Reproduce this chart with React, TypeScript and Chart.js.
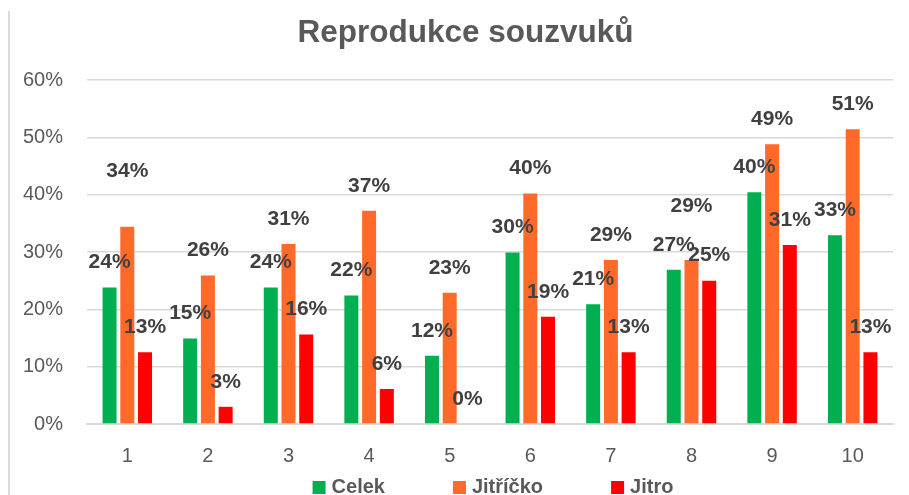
import React, { useEffect, useRef } from "react";
import { Chart, registerables } from "chart.js";

Chart.register(...registerables);

const categories = ["1", "2", "3", "4", "5", "6", "7", "8", "9", "10"];
const celek = [23.8, 14.9, 23.8, 22.4, 11.9, 29.9, 20.9, 26.9, 40.4, 32.9];
const jitricko = [34.4, 25.9, 31.4, 37.2, 22.9, 40.2, 28.6, 28.6, 48.8, 51.4];
const jitro = [12.5, 3.0, 15.6, 6.1, 0, 18.7, 12.5, 25.0, 31.2, 12.5];
const seriesNames = ["Celek", "Jitříčko", "Jitro"];
const seriesColors = ["#00B050", "#FF6A2B", "#FF0000"];
const yTicks = [0, 10, 20, 30, 40, 50, 60];
const titleText = "Reprodukce souzvuků";

const TEXT = "#595959";
const LABEL = "#404040";
const FONT = "'Liberation Sans', Arial, sans-serif";

// data labels lifted further (series index, category index)
const extraLift: Record<string, number> = { "1-0": 31, "1-7": 29 };

const dataLabelPlugin = {
  id: "dataLabels",
  afterDatasetsDraw(chart: any) {
    const ctx = chart.ctx;
    ctx.save();
    ctx.font = `bold 21px ${FONT}`;
    ctx.fillStyle = LABEL;
    ctx.textAlign = "center";
    ctx.textBaseline = "middle";
    chart.data.datasets.forEach((ds: any, di: number) => {
      const meta = chart.getDatasetMeta(di);
      meta.data.forEach((bar: any, i: number) => {
        const v = ds.data[i];
        const lift = 25 + (extraLift[`${di}-${i}`] || 0);
        ctx.fillText(`${Math.round(v)}%`, bar.x, bar.y - lift);
      });
    });
    ctx.restore();
  },
};

const titlePlugin = {
  id: "customTitle",
  afterDraw(chart: any) {
    const ctx = chart.ctx;
    ctx.save();
    ctx.font = `bold 31.5px ${FONT}`;
    ctx.fillStyle = TEXT;
    ctx.textAlign = "center";
    ctx.textBaseline = "alphabetic";
    ctx.fillText(titleText, chart.width / 2 + 11, 42);
    ctx.restore();
  },
};

const legendPlugin = {
  id: "customLegend",
  afterDraw(chart: any) {
    const ctx = chart.ctx;
    ctx.save();
    ctx.font = `bold 20px ${FONT}`;
    const box = 13;
    const gapText = 6;
    const gapItem = 68;
    const widths = seriesNames.map((n) => box + gapText + ctx.measureText(n).width);
    const total = widths.reduce((a, b) => a + b, 0) + gapItem * (seriesNames.length - 1);
    const ca = chart.chartArea;
    let x = (ca.left + ca.right) / 2 + 3 - total / 2;
    const cy = 487;
    seriesNames.forEach((n, i) => {
      ctx.fillStyle = seriesColors[i];
      ctx.fillRect(x, cy - 6, box, box);
      ctx.fillStyle = TEXT;
      ctx.textAlign = "left";
      ctx.textBaseline = "middle";
      ctx.fillText(n, x + box + gapText, cy);
      x += widths[i] + gapItem;
    });
    ctx.restore();
  },
};

const borderPlugin = {
  id: "leftBorder",
  beforeDraw(chart: any) {
    const ctx = chart.ctx;
    ctx.save();
    ctx.fillStyle = "#ffffff";
    ctx.fillRect(0, 0, chart.width, chart.height);
    ctx.strokeStyle = "#d9d9d9";
    ctx.lineWidth = 2;
    ctx.beginPath();
    ctx.moveTo(9, 11);
    ctx.lineTo(9, chart.height);
    ctx.stroke();
    ctx.restore();
  },
};

export default function App() {
  const ref = useRef<HTMLCanvasElement | null>(null);

  useEffect(() => {
    document.body.style.margin = "0";
    if (!ref.current) return;
    const values = [celek, jitricko, jitro];
    const chart = new Chart(ref.current, {
      type: "bar",
      data: {
        labels: categories,
        datasets: seriesNames.map((n, i) => ({
          label: n,
          data: values[i],
          backgroundColor: seriesColors[i],
          borderWidth: 0,
          categoryPercentage: 0.66,
          barPercentage: 0.79,
        })),
      },
      options: {
        responsive: false,
        animation: false,
        layout: { padding: { left: 0, right: 16, top: 80, bottom: 27 } },
        plugins: {
          legend: { display: false },
          tooltip: { enabled: false },
          title: { display: false },
        },
        scales: {
          x: {
            grid: { display: false, drawTicks: false },
            border: { display: true, color: "#d9d9d9", width: 2 },
            ticks: { color: TEXT, font: { family: FONT, size: 20 }, padding: 20 },
            afterFit: (s: any) => {
              s.height = 44;
            },
          },
          y: {
            min: 0,
            max: 60,
            afterBuildTicks: (s: any) => {
              s.ticks = yTicks.map((v) => ({ value: v }));
            },
            grid: { color: "#d9d9d9", lineWidth: 1.5, drawTicks: false },
            border: { display: false },
            ticks: {
              color: TEXT,
              font: { family: FONT, size: 20 },
              padding: 24,
              callback: (v: any) => `${v}%`,
            },
            afterFit: (s: any) => {
              s.width = 87;
            },
          },
        },
      },
      plugins: [borderPlugin, dataLabelPlugin, titlePlugin, legendPlugin],
    });
    return () => chart.destroy();
  }, []);

  return (
    <div style={{ width: 909, height: 495 }}>
      <canvas ref={ref} width={909} height={495} />
    </div>
  );
}
